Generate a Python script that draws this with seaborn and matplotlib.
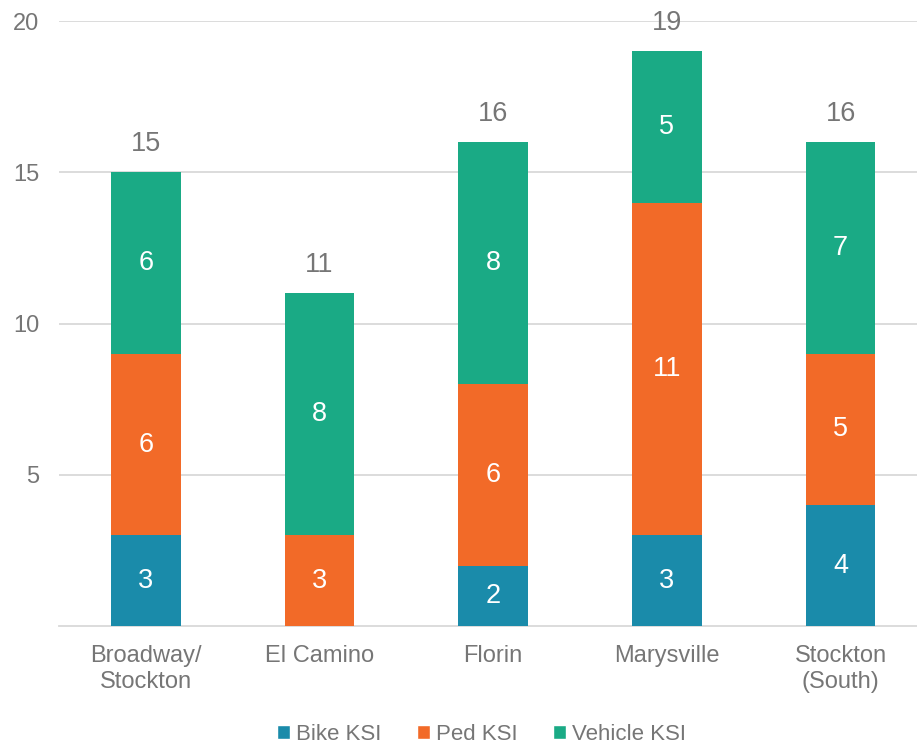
import matplotlib
matplotlib.use("Agg")
import matplotlib.pyplot as plt
import seaborn as sns
import pandas as pd
import numpy as np
from matplotlib.patches import Patch

categories = ["Broadway/\nStockton", "El Camino", "Florin", "Marysville", "Stockton\n(South)"]
bike = [3, 0, 2, 3, 4]
ped = [6, 3, 6, 11, 5]
vehicle = [6, 8, 8, 5, 7]
series_names = ["Bike KSI", "Ped KSI", "Vehicle KSI"]
colors = ["#1A8BAA", "#F26A28", "#1AAA85"]
yticks = [5, 10, 15, 20]

sns.set_style("white")
plt.rcParams["font.family"] = ["Liberation Sans", "DejaVu Sans"]
gray = "#767676"

fig = plt.figure(figsize=(9.17, 7.49), dpi=100)
ax = fig.add_axes([0.0643, 0.1642, 0.9357, 0.8077])

df = pd.DataFrame({"cat": categories, "bike": bike, "ped": ped, "vehicle": vehicle})
bottom = np.zeros(len(categories))
for col, name, c in zip(["bike", "ped", "vehicle"], series_names, colors):
    vals = np.array(df[col], dtype=float)
    sns.barplot(data=df, x="cat", y=col, ax=ax, color=c, width=0.40,
                bottom=bottom, saturation=1, zorder=3, linewidth=0)
    for i, v in enumerate(vals):
        if v > 0:
            ax.text(i, bottom[i] + v / 2, f"{int(v)}", ha="center", va="center",
                    color="white", fontsize=19.5, zorder=5)
    bottom = bottom + vals

for i, t in enumerate(bottom):
    ax.text(i, t + 0.5, f"{int(t)}", ha="center", va="bottom", color=gray, fontsize=19.5)

ax.set_ylim(0, 20)
ax.set_xlim(-0.5, 4.44)
ax.set_yticks(yticks)
ax.set_yticklabels([str(v) for v in yticks])
ax.grid(axis="y", color="#d9d9d9", linewidth=1.3, zorder=0)
ax.set_axisbelow(True)
for s in ["top", "right", "left"]:
    ax.spines[s].set_visible(False)
ax.spines["bottom"].set_color("#d9d9d9")
ax.spines["bottom"].set_linewidth(1.3)
ax.tick_params(axis="both", length=0, colors=gray, labelsize=17)
ax.tick_params(axis="x", pad=14)
ax.tick_params(axis="y", pad=14)
ax.set_xlabel("")
ax.set_ylabel("")

handles = [Patch(facecolor=c, label=n) for n, c in zip(series_names, colors)]
fig.legend(handles=handles, loc="center", bbox_to_anchor=(0.525, 0.02), ncol=3,
           frameon=False, fontsize=16, handlelength=0.6, handleheight=0.6,
           handletextpad=0.25, columnspacing=1.6, labelcolor=gray)

fig.savefig("out.png", dpi=100)
